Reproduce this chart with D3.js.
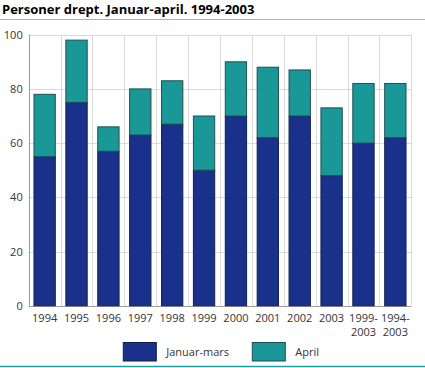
<!DOCTYPE html>
<html><head><meta charset="utf-8">
<script src="https://cdn.jsdelivr.net/npm/d3@7"></script>
<style>body{margin:0;background:#fff;} svg{display:block;}</style>
</head><body>
<script>
const categories = ["1994","1995","1996","1997","1998","1999","2000","2001","2002","2003","1999-\n2003","1994-\n2003"];
const januarMars = [55,75,57,63,67,50,70,62,70,48,60,62];
const april = [23,23,9,17,16,20,20,26,17,25,22,20];
const seriesNames = ["Januar-mars","April"];
const yTicks = [0,20,40,60,80,100];
const title = "Personer drept. Januar-april. 1994-2003";

const W=425,H=368;
const colors=["#1a318c","#1a9898"];
const strokes=["#10204a","#1f4f55"];
const svg=d3.select("body").append("svg").attr("width",W).attr("height",H);
const font="'Open Sans', sans-serif";

svg.append("text").attr("x",2).attr("y",14).text(title)
  .attr("font-family",font).attr("font-weight","bold").attr("font-size",13).attr("fill","#000");
svg.append("line").attr("x1",0).attr("x2",W).attr("y1",19.5).attr("y2",19.5).attr("stroke","#7cc8c8").attr("stroke-width",1);
svg.append("line").attr("x1",0).attr("x2",W).attr("y1",366.5).attr("y2",366.5).attr("stroke","#2a9a9a").attr("stroke-width",1.5);

const x=d3.scaleBand().domain(categories).range([28.7,411.3]).paddingInner(0.3).paddingOuter(0.15);
const y=d3.scaleLinear().domain([0,100]).range([305.7,34.7]);

// grid
const step=(411.3-28.7)/categories.length;
const g=svg.append("g");
g.selectAll(".hg").data(yTicks.filter(d=>d>0)).join("line")
  .attr("x1",28.7).attr("x2",411.3).attr("y1",d=>Math.round(y(d))+0.5).attr("y2",d=>Math.round(y(d))+0.5)
  .attr("stroke","#d9d9d9").attr("stroke-width",1);
g.selectAll(".vg").data(d3.range(categories.length+1)).join("line")
  .attr("x1",i=>Math.round(28.7+i*step)+0.5).attr("x2",i=>Math.round(28.7+i*step)+0.5)
  .attr("y1",y(100)).attr("y2",y(0))
  .attr("stroke",(d,i)=>i===0?"#999":"#d9d9d9").attr("stroke-width",1);
g.append("line").attr("x1",28.7).attr("x2",411.3).attr("y1",Math.round(y(0))+0.5).attr("y2",Math.round(y(0))+0.5).attr("stroke","#999");

// y axis labels
const yAxis=d3.axisLeft(y).tickValues(yTicks).tickSize(0).tickPadding(6);
const ya=svg.append("g").attr("transform","translate(28.7,0)").call(yAxis);
ya.select(".domain").remove();
ya.selectAll("text").attr("font-family",font).attr("font-size",11).attr("fill","#333");

// stacks
const data=categories.map((c,i)=>({cat:c,"Januar-mars":januarMars[i],"April":april[i]}));
const stack=d3.stack().keys(seriesNames)(data);
stack.forEach((s,si)=>{
  svg.append("g").selectAll("rect").data(s).join("rect")
    .attr("x",d=>x(d.data.cat)+0.5).attr("width",x.bandwidth()-1)
    .attr("y",d=>y(d[1])).attr("height",d=>y(d[0])-y(d[1]))
    .attr("fill",colors[si]).attr("stroke",strokes[si]).attr("stroke-width",1);
});

// x labels
const xl=svg.append("g").selectAll("text").data(categories).join("text")
  .attr("x",d=>x(d)+x.bandwidth()/2).attr("y",322)
  .attr("text-anchor","middle").attr("font-family",font).attr("font-size",11).attr("fill","#333");
xl.each(function(d){
  const parts=d.split("\n");
  const t=d3.select(this);
  parts.forEach((p,i)=>t.append("tspan").attr("x",x(d)+x.bandwidth()/2).attr("dy",i===0?0:14).text(p));
});

// legend
const legX=[123.3,252.3];
seriesNames.forEach((n,i)=>{
  svg.append("rect").attr("x",legX[i]).attr("y",342.5).attr("width",33).attr("height",18.5)
    .attr("fill",colors[i]).attr("stroke",strokes[i]).attr("stroke-width",1);
  svg.append("text").attr("x",legX[i]+43).attr("y",356).text(n)
    .attr("font-family",font).attr("font-size",11).attr("fill","#333");
});
</script>
</body></html>
